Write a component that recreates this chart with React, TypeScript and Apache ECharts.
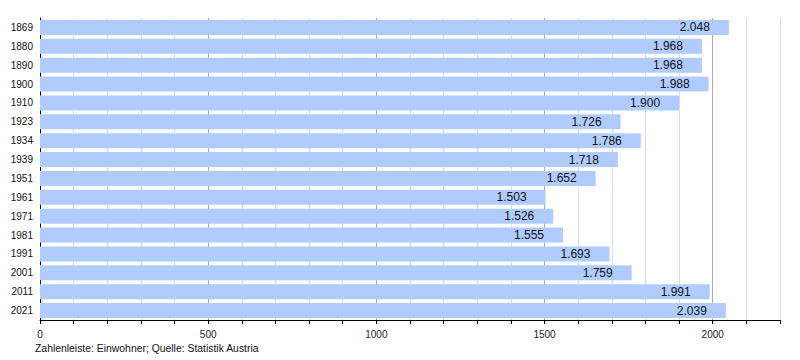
import React, { useEffect, useRef } from "react";
import * as echarts from "echarts";

const years = ["1869", "1880", "1890", "1900", "1910", "1923", "1934", "1939", "1951", "1961", "1971", "1981", "1991", "2001", "2011", "2021"];
const population = [2048, 1968, 1968, 1988, 1900, 1726, 1786, 1718, 1652, 1503, 1526, 1555, 1693, 1759, 1991, 2039];
const footnote = "Zahlenleiste: Einwohner; Quelle: Statistik Austria";

const FONT = "'Liberation Sans', Arial, sans-serif";

function fmt(v: number): string {
  return String(v).replace(/\B(?=(\d{3})+(?!\d))/g, ".");
}

export default function App() {
  const ref = useRef<HTMLDivElement>(null);
  useEffect(() => {
    document.body.style.margin = "0";
    if (!ref.current) return;
    const chart = echarts.init(ref.current, null, { renderer: "svg" });
    chart.setOption({
      animation: false,
      textStyle: { fontFamily: FONT },
      grid: { left: 40, right: 20, top: 18, bottom: 40, containLabel: false },
      xAxis: {
        type: "value",
        min: 0,
        max: 2200,
        interval: 100,
        axisLine: { show: true, lineStyle: { color: "#000", width: 1 } },
        axisTick: { show: true, length: 4, lineStyle: { color: "#000" } },
        axisLabel: {
          interval: 0,
          formatter: (v: number) => (v % 500 === 0 ? String(v) : ""),
          color: "#222",
          fontSize: 10,
          fontFamily: FONT,
          margin: 9,
        },
        splitLine: {
          show: true,
          lineStyle: { color: ["#aaaaaa", "#dddddd", "#dddddd", "#dddddd", "#dddddd"], width: 1 },
        },
      },
      yAxis: {
        type: "category",
        data: years,
        inverse: true,
        axisLine: { show: true, lineStyle: { color: "#000", width: 1 } },
        axisTick: { show: false },
        axisLabel: { color: "#111", fontSize: 10, fontFamily: FONT, margin: 7 },
      },
      series: [
        {
          type: "bar",
          data: population,
          barWidth: 15,
          itemStyle: { color: "#b0ccff" },
          label: {
            show: true,
            position: "insideRight",
            distance: 19,
            color: "#111",
            fontSize: 12,
            fontFamily: FONT,
            formatter: (p: any) => fmt(p.value),
          },
        },
      ],
      graphic: [
        {
          type: "text",
          left: 35,
          top: 343,
          style: { text: footnote, fill: "#111", font: `10.4px ${FONT}` },
        },
      ],
    });
    return () => chart.dispose();
  }, []);
  return <div ref={ref} style={{ width: 800, height: 360 }} />;
}
